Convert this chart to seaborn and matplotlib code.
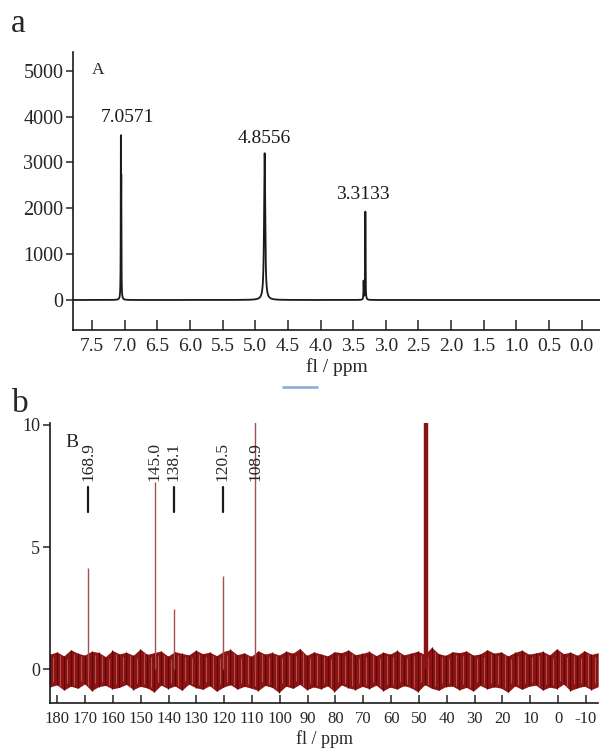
import numpy as np
import pandas as pd
import matplotlib
matplotlib.use('Agg')
import matplotlib.pyplot as plt
from matplotlib.lines import Line2D
import seaborn as sns

# 1H spectrum (panel a): peak positions / ppm, heights, half widths
h_pos = [7.0571, 7.051, 4.8556, 3.3133, 3.340]
h_height = [3270, 2270, 3200, 1925, 400]
h_width = [0.0025, 0.0025, 0.0100, 0.0030, 0.0030]
h_labels = ['7.0571', '4.8556', '3.3133']
h_label_pos = [7.0571, 4.8556, 3.3133]
h_label_y = [3800, 3330, 2110]
h_xticks = [7.5, 7.0, 6.5, 6.0, 5.5, 5.0, 4.5, 4.0, 3.5, 3.0, 2.5, 2.0, 1.5, 1.0, 0.5, 0.0]
h_yticks = [0, 1000, 2000, 3000, 4000, 5000]

# 13C spectrum (panel b): stick peaks
c_pos = [168.9, 145.0, 138.1, 120.5, 108.9]
c_height = [4.15, 7.65, 2.45, 3.8, 10.5]
c_labels = ['168.9', '145.0', '138.1', '120.5', '108.9']
c_marked = ['168.9', '138.1', '120.5']
solvent_pos = 47.4
solvent_height = 10.5
c_xticks = list(range(180, -11, -10))
c_yticks = [0, 5, 10]

# noise envelope of the 13C baseline (upper / lower extremes)
noise_hi = [0.62, 0.71, 0.55, 0.80, 0.66, 0.58, 0.74, 0.69, 0.52, 0.77,
            0.63, 0.70, 0.57, 0.83, 0.61, 0.68, 0.75, 0.54, 0.72, 0.65,
            0.59, 0.78, 0.64, 0.70, 0.56, 0.73, 0.81, 0.60, 0.67, 0.53,
            0.76, 0.62, 0.69, 0.58, 0.74, 0.66, 0.85, 0.57, 0.71, 0.63,
            0.55, 0.72, 0.68, 0.79, 0.60, 0.65, 0.73, 0.56, 0.70, 0.62,
            0.77, 0.59, 0.66, 0.74, 0.61, 0.90, 0.64, 0.57, 0.72, 0.68,
            0.75, 0.58, 0.63, 0.80, 0.66, 0.71, 0.55, 0.69, 0.78, 0.62,
            0.67, 0.73, 0.59, 0.84, 0.64, 0.70, 0.57, 0.76, 0.61, 0.68]
noise_lo = [-0.72, -0.64, -0.85, -0.69, -0.78, -0.60, -0.88, -0.71, -0.66, -0.80,
            -0.74, -0.62, -0.83, -0.70, -0.76, -0.93, -0.65, -0.79, -0.68, -0.86,
            -0.61, -0.75, -0.82, -0.67, -0.90, -0.73, -0.63, -0.81, -0.70, -0.77,
            -0.87, -0.66, -0.74, -0.95, -0.69, -0.78, -0.62, -0.84, -0.72, -0.80,
            -0.68, -0.91, -0.64, -0.76, -0.83, -0.70, -0.79, -0.65, -0.88, -0.73,
            -0.81, -0.67, -0.75, -0.92, -0.63, -0.78, -0.86, -0.71, -0.69, -0.84,
            -0.74, -0.89, -0.66, -0.80, -0.72, -0.77, -0.94, -0.68, -0.82, -0.70,
            -0.65, -0.85, -0.73, -0.79, -0.61, -0.87, -0.76, -0.69, -0.83, -0.71]

sns.set_style('ticks')
plt.rcParams['font.family'] = ['Liberation Serif', 'DejaVu Serif']
plt.rcParams['axes.unicode_minus'] = False

fig = plt.figure(figsize=(6, 7.51), dpi=100)

# ---- panel a ----
ax = fig.add_axes([0.1217, 0.5606, 0.8783, 0.3702])
xa = np.linspace(7.8, -0.3, 24000)
ya = np.zeros_like(xa)
for p, h, w in zip(h_pos, h_height, h_width):
    ya += h * w**2 / ((xa - p)**2 + w**2)
df_a = pd.DataFrame({'ppm': xa, 'I': ya})
sns.lineplot(data=df_a, x='ppm', y='I', ax=ax, color='#1a1a1a', lw=1.3,
             sort=False, estimator=None)
ax.set_xlim(7.79, -0.28)
ax.set_ylim(-654, 5408)
ax.set_xticks(h_xticks)
ax.set_xticklabels([f'{t:.1f}' for t in h_xticks])
ax.set_yticks(h_yticks)
for lab, p, y in zip(h_labels, h_label_pos, h_label_y):
    dx = {'7.0571': 4.5, '3.3133': -2.0}.get(lab, 0)
    ax.annotate(lab, (p, y), xytext=(dx, 0), textcoords='offset points',
                ha='center', va='bottom', fontsize=14, color='#1a1a1a')
ax.text(0.035, 0.965, 'A', transform=ax.transAxes, fontsize=12.5, va='top')
ax.set_xlabel('fl / ppm', fontsize=14, labelpad=2)
ax.set_ylabel('')
ax.tick_params(axis='x', direction='in', length=7, width=1.1, labelsize=14, pad=6)
ax.tick_params(axis='y', direction='out', length=5, width=1.1, labelsize=14.5, pad=2)
sns.despine(ax=ax)
for s in ['left', 'bottom']:
    ax.spines[s].set_linewidth(1.2)
    ax.spines[s].set_color('#1a1a1a')

# ---- panel b ----
bx = fig.add_axes([0.0833, 0.0639, 0.9137, 0.3729])
xn = np.linspace(182.6, -14.4, len(noise_hi))
bx.fill_between(xn, noise_lo, noise_hi, color='#8e1414', lw=0)
bx.vlines(xn, noise_lo, noise_hi, color='#5a0808', lw=0.9)
# thin lighter streaks between the dark strokes
mid = (xn[:-1] + xn[1:]) / 2
bx.vlines(mid, np.array(noise_lo[1:]) * 0.8, np.array(noise_hi[:-1]) * 0.8,
          color='#c86a6a', lw=0.5)
bx.vlines(c_pos, 0, c_height, color='#a35050', lw=1.0)
bx.vlines([solvent_pos], 0, [solvent_height], color='#8b1414', lw=3.2)
for lab, p in zip(c_labels, c_pos):
    bx.text(p, 7.72, lab, rotation=90, ha='center', va='bottom', fontsize=12.5)
    if lab in c_marked:
        bx.plot([p, p], [6.45, 7.45], color='#1a1a1a', lw=1.6)
bx.set_xlim(182.6, -14.4)
bx.set_ylim(-1.38, 10.08)
bx.set_xticks(c_xticks)
bx.set_yticks(c_yticks)
bx.text(0.028, 0.96, 'B', transform=bx.transAxes, fontsize=14, va='top')
bx.set_xlabel('fl / ppm', fontsize=13, labelpad=2)
bx.set_ylabel('')
bx.tick_params(axis='x', direction='in', length=6, width=1.1, labelsize=12, pad=6)
bx.tick_params(axis='y', direction='out', length=5, width=1.1, labelsize=13, pad=2)
sns.despine(ax=bx)
for s in ['left', 'bottom']:
    bx.spines[s].set_linewidth(1.2)
    bx.spines[s].set_color('#1a1a1a')

# panel letters
fig.text(0.018, 0.958, 'a', fontsize=24, va='baseline')
fig.text(0.020, 0.451, 'b', fontsize=24, va='baseline')
# small blue underline mark under the first axis label
fig.add_artist(Line2D([283 / 600, 317 / 600], [1 - 387 / 751, 1 - 387 / 751],
                      color='#8fb0dc', lw=2))

fig.savefig('out.png', dpi=100)
